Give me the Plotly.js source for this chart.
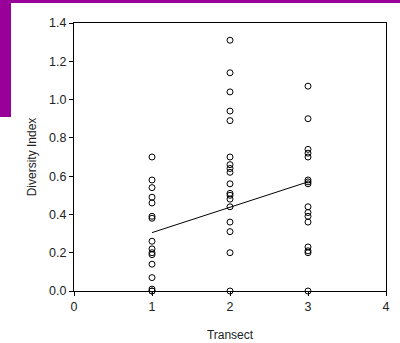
<!DOCTYPE html>
<html>
<head>
<meta charset="utf-8">
<script src="https://cdn.plot.ly/plotly-3.0.1.min.js"></script>
<style>
  html, body { margin: 0; padding: 0; background: #ffffff; }
  #wrap { position: relative; width: 400px; height: 343px; overflow: hidden; }
  #chart { position: absolute; left: 0; top: 0; width: 400px; height: 343px; }
  .band { position: absolute; background: #990099; z-index: 5; }
</style>
</head>
<body>
<div id="wrap">
  <div id="chart"></div>
  <div class="band" style="left:0;top:0;width:400px;height:3px;"></div>
  <div class="band" style="left:0;top:0;width:11px;height:117px;"></div>
</div>
<script>
// Diversity index samples per transect
const transects = [1, 2, 3];
const transect1 = [0.70, 0.58, 0.54, 0.49, 0.46, 0.39, 0.38, 0.26, 0.22, 0.20, 0.19, 0.14, 0.07, 0.01, 0, 0];
const transect2 = [1.31, 1.14, 1.04, 0.94, 0.89, 0.70, 0.66, 0.64, 0.62, 0.56, 0.51, 0.50, 0.48, 0.44, 0.36, 0.31, 0.20, 0];
const transect3 = [1.07, 0.90, 0.74, 0.72, 0.70, 0.58, 0.57, 0.56, 0.44, 0.41, 0.39, 0.36, 0.23, 0.21, 0.20, 0];

// Linear trend drawn across the sampled transects
const trendX = [1, 3];
const trendY = [0.305, 0.57];

const xTicks = [0, 1, 2, 3, 4];
const yTicks = [0, 0.2, 0.4, 0.6, 0.8, 1.0, 1.2, 1.4];

const groups = [transect1, transect2, transect3];
const px = [], py = [];
groups.forEach((vals, i) => {
  vals.forEach(v => { px.push(transects[i]); py.push(v); });
});

const points = {
  x: px, y: py, type: 'scatter', mode: 'markers',
  marker: { symbol: 'circle-open', size: 6, color: '#000000', line: { width: 1, color: '#000000' } },
  hoverinfo: 'x+y', showlegend: false, cliponaxis: false
};

const trend = {
  x: trendX, y: trendY, type: 'scatter', mode: 'lines',
  line: { color: '#000000', width: 1 }, showlegend: false, hoverinfo: 'skip'
};

const tickFont = { family: 'Liberation Sans, Arial, sans-serif', size: 12.5, color: '#222222' };
const titleFont = { family: 'Liberation Sans, Arial, sans-serif', size: 12, color: '#222222' };

const layout = {
  width: 400, height: 343,
  margin: { l: 74, r: 14, t: 23, b: 52 },
  paper_bgcolor: '#ffffff', plot_bgcolor: '#ffffff',
  font: tickFont,
  showlegend: false,
  xaxis: {
    range: [0, 4], tickvals: xTicks, ticktext: xTicks.map(String),
    ticks: 'outside', ticklen: 4, tickwidth: 1, tickcolor: '#000000',
    showline: true, linecolor: '#000000', linewidth: 1, mirror: true,
    showgrid: false, zeroline: false, tickfont: tickFont,
    title: { text: 'Transect', font: titleFont, standoff: 17 }
  },
  yaxis: {
    range: [0, 1.4], tickvals: yTicks, ticktext: yTicks.map(v => v.toFixed(1)),
    ticks: 'outside', ticklen: 4, tickwidth: 1, tickcolor: '#000000',
    showline: true, linecolor: '#000000', linewidth: 1, mirror: true,
    showgrid: false, zeroline: false, tickfont: tickFont,
    title: { text: 'Diversity Index', font: titleFont, standoff: 9 }
  }
};

Plotly.newPlot('chart', [trend, points], layout, { staticPlot: true, displayModeBar: false });
</script>
</body>
</html>
